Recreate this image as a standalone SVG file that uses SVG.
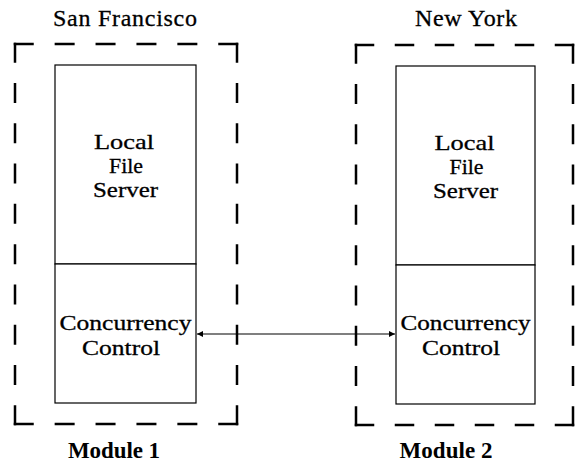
<svg xmlns="http://www.w3.org/2000/svg" width="576" height="470" viewBox="0 0 576 470">
<style>
  .bg { fill: #ffffff; }
  .dash { stroke: #000; stroke-width: 2.5; stroke-linecap: square; fill: none; }
  .box { fill: #fff; stroke: #000; stroke-width: 1.2; }
  .t { font-family: "Liberation Serif", "Times New Roman", serif; font-size: 24px; fill: #000; stroke: #000; stroke-width: 0.3; text-anchor: middle; }
  .s { font-size: 21.5px; }
  .b { font-family: "Liberation Serif", "Times New Roman", serif; font-size: 23px; font-weight: bold; fill: #000; text-anchor: middle; }
  .conn { stroke: #000; stroke-width: 1.2; fill: none; }
</style>
<defs>
  <marker id="ah" viewBox="0 0 10 10" refX="10" refY="5" markerWidth="7" markerHeight="6" markerUnits="userSpaceOnUse" orient="auto-start-reverse">
    <path d="M0,0 L10,5 L0,10 Z" fill="#000"/>
  </marker>
</defs>
<rect class="bg" x="0" y="0" width="576" height="470"/>

<g id="module1">
  <line class="dash" x1="15" y1="44" x2="237" y2="44" stroke-dasharray="17.5 23.4"/>
  <line class="dash" x1="15" y1="424" x2="237" y2="424" stroke-dasharray="17.5 23.4"/>
  <line class="dash" x1="15" y1="44" x2="15" y2="424" stroke-dasharray="17.5 22.78"/>
  <line class="dash" x1="237" y1="44" x2="237" y2="424" stroke-dasharray="17.5 22.78"/>
  <text class="t" x="125" y="26" textLength="144" lengthAdjust="spacing">San Francisco</text>
  <text class="b" x="114" y="458" textLength="92" lengthAdjust="spacing">Module 1</text>
</g>

<g id="module2">
  <line class="dash" x1="356" y1="45" x2="573" y2="45" stroke-dasharray="17 23"/>
  <line class="dash" x1="356" y1="425" x2="573" y2="425" stroke-dasharray="17 23"/>
  <line class="dash" x1="356" y1="45" x2="356" y2="425" stroke-dasharray="17.5 22.78"/>
  <line class="dash" x1="573" y1="45" x2="573" y2="425" stroke-dasharray="17.5 22.78"/>
  <text class="t" x="466" y="26" textLength="102" lengthAdjust="spacing">New York</text>
  <text class="b" x="446" y="458" textLength="93" lengthAdjust="spacing">Module 2</text>
</g>

<g id="fileserver1">
  <rect class="box" x="55" y="65" width="141" height="199"/>
  <text class="t s"><tspan x="124" y="149" textLength="60" lengthAdjust="spacingAndGlyphs">Local</tspan><tspan x="126" y="173" textLength="34" lengthAdjust="spacingAndGlyphs">File</tspan><tspan x="125.5" y="197" textLength="65" lengthAdjust="spacingAndGlyphs">Server</tspan></text>
</g>
<g id="cc1">
  <rect class="box" x="55" y="264" width="141" height="139"/>
  <text class="t s"><tspan x="125.5" y="330" textLength="132" lengthAdjust="spacingAndGlyphs">Concurrency</tspan><tspan x="121" y="355" textLength="78" lengthAdjust="spacingAndGlyphs">Control</tspan></text>
</g>

<g id="fileserver2">
  <rect class="box" x="396" y="66" width="139" height="199"/>
  <text class="t s"><tspan x="464.5" y="150" textLength="60" lengthAdjust="spacingAndGlyphs">Local</tspan><tspan x="466.5" y="174" textLength="34" lengthAdjust="spacingAndGlyphs">File</tspan><tspan x="465.5" y="198" textLength="65" lengthAdjust="spacingAndGlyphs">Server</tspan></text>
</g>
<g id="cc2">
  <rect class="box" x="396" y="265" width="139" height="139"/>
  <text class="t s"><tspan x="465.5" y="330" textLength="130" lengthAdjust="spacingAndGlyphs">Concurrency</tspan><tspan x="461" y="355" textLength="78" lengthAdjust="spacingAndGlyphs">Control</tspan></text>
</g>

<g id="connectors">
  <line class="conn" x1="197" y1="334" x2="395" y2="334" marker-start="url(#ah)" marker-end="url(#ah)"/>
</g>
</svg>
